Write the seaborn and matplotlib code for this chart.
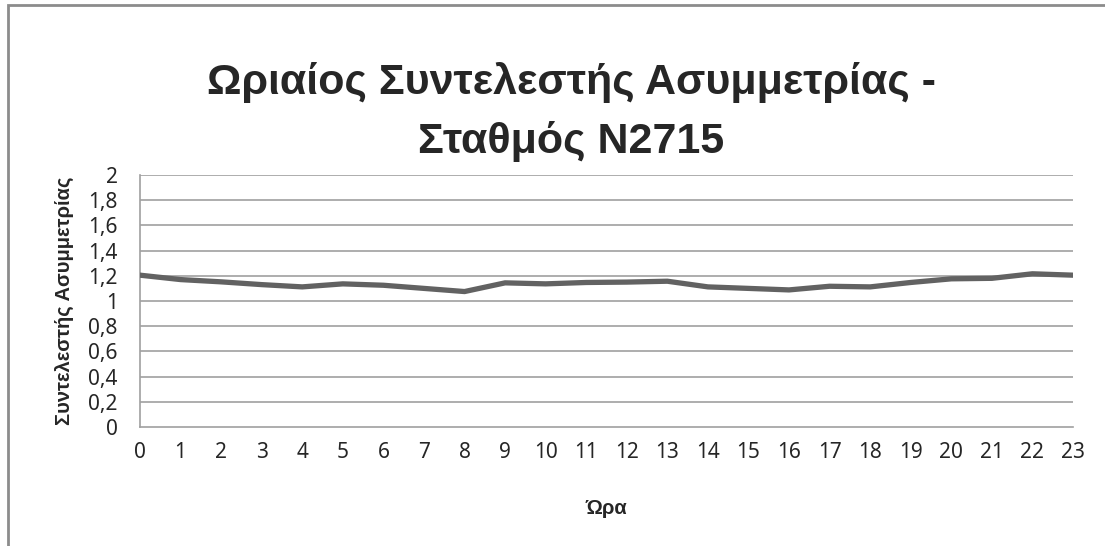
import numpy as np
import seaborn as sns
import matplotlib.pyplot as plt
import pandas as pd
from matplotlib.patches import Rectangle

hours = list(range(24))
skew = [1.205, 1.17, 1.152, 1.13, 1.112, 1.136, 1.125, 1.10, 1.075, 1.144, 1.136, 1.147,
        1.15, 1.157, 1.112, 1.10, 1.088, 1.117, 1.112, 1.147, 1.176, 1.18, 1.216, 1.205]
ytick_vals = [0, 0.2, 0.4, 0.6, 0.8, 1, 1.2, 1.4, 1.6, 1.8, 2]
ytick_labels = ["0", "0,2", "0,4", "0,6", "0,8", "1", "1,2", "1,4", "1,6", "1,8", "2"]

title = "Ωριαίος Συντελεστής Ασυμμετρίας -\nΣταθμός Ν2715"
xlabel = "Ώρα"
ylabel = "Συντελεστής Ασυμμετρίας"

df = pd.DataFrame({"hour": hours, "skew": skew})

sns.set_style("white")
plt.rcParams['font.family'] = ['Noto Sans', 'DejaVu Sans']
bold_fam = ['Liberation Sans', 'DejaVu Sans']

fig = plt.figure(figsize=(11.05, 5.46), dpi=100)
ax = fig.add_axes([140/1105, 1 - 427/546, (1073 - 140)/1105, (427 - 175)/546])

grid_c = "#a0a0a0"
for v in ytick_vals[1:]:
    ax.axhline(v, color=grid_c, lw=1.2, zorder=0)

sns.lineplot(data=df, x="hour", y="skew", ax=ax, color="#626262", lw=3.8, zorder=3)

ax.set_xlim(0, 23)
ax.set_ylim(0, 2)
ax.set_xticks(hours)
ax.set_xticklabels([str(h) for h in hours], fontsize=15)
ax.set_yticks(ytick_vals)
ax.set_yticklabels(ytick_labels, fontsize=15)
ax.tick_params(axis="x", length=0, pad=11)
ax.tick_params(axis="y", length=0, pad=16)

for s in ["top", "right"]:
    ax.spines[s].set_visible(False)
for s in ["left", "bottom"]:
    ax.spines[s].set_color(grid_c)
    ax.spines[s].set_linewidth(1.2)

ax.set_xlabel(xlabel, fontsize=14.5, fontweight="bold", family=bold_fam, labelpad=26)
ax.set_ylabel(ylabel, fontsize=14.5, fontweight="bold", family=bold_fam, labelpad=10)

fig.text(571/1105, 1 - 112/546, title, ha="center", va="center",
         fontsize=31, fontweight="bold", family=bold_fam, linespacing=1.55)

fig.patches.append(Rectangle((7.5/1105, -0.1), 1.2, 1 - 4.5/546 + 0.1,
                             transform=fig.transFigure, fill=False,
                             edgecolor="#8c8c8c", lw=2, zorder=0))

fig.savefig("out.png", dpi=100)
